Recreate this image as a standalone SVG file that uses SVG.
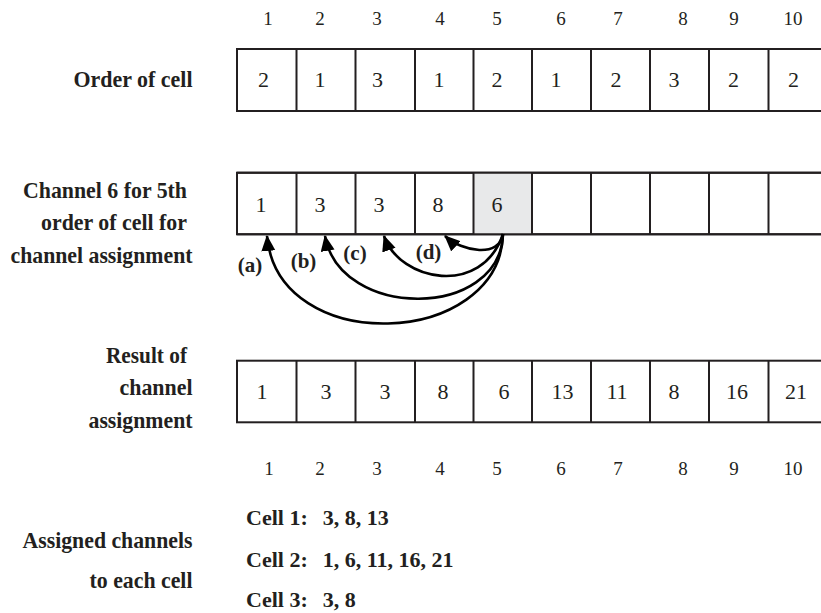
<svg xmlns="http://www.w3.org/2000/svg" width="821" height="613" viewBox="0 0 821 613" font-family="'Liberation Serif', 'DejaVu Serif', serif">
<style>
  text { font-family: 'Liberation Serif', 'DejaVu Serif', serif; fill: #231f20; }
  .lbl { font-size: 24px; font-weight: bold; text-anchor: end; }
  .idx { font-size: 19px; text-anchor: middle; }
  .val { font-size: 22px; text-anchor: middle; }
  .tag { font-size: 21px; font-weight: bold; text-anchor: middle; }
  .lst { font-size: 22px; font-weight: bold; }
  .box { fill: #ffffff; stroke: #231f20; stroke-width: 2; }
  .div { stroke: #231f20; stroke-width: 2; }
  .arc { fill: none; stroke: #000000; stroke-width: 2.6; }
</style>
<defs>
  <marker id="ah" markerUnits="userSpaceOnUse" markerWidth="18" markerHeight="16" refX="15" refY="7" orient="auto">
    <path d="M0,0 L16,7 L0,14 Z" fill="#000000"/>
  </marker>
</defs>
<rect width="821" height="613" fill="#ffffff"/>

<g id="top-index">
  <text class="idx" x="268" y="25">1</text>
  <text class="idx" x="320" y="25">2</text>
  <text class="idx" x="377" y="25">3</text>
  <text class="idx" x="440" y="25">4</text>
  <text class="idx" x="497" y="25">5</text>
  <text class="idx" x="561" y="25">6</text>
  <text class="idx" x="618" y="25">7</text>
  <text class="idx" x="683" y="25">8</text>
  <text class="idx" x="734" y="25">9</text>
  <text class="idx" x="793" y="25">10</text>
</g>

<g id="row-order">
  <text class="lbl" x="192.5" y="87" textLength="119" lengthAdjust="spacingAndGlyphs">Order of cell</text>
  <rect class="box" x="237" y="49" width="593" height="62"/>
  <path class="div" d="M296.5,49V111 M355.5,49V111 M415,49V111 M473.5,49V111 M532,49V111 M591,49V111 M650,49V111 M709,49V111 M768.5,49V111"/>
  <text class="val" x="263.5" y="87">2</text>
  <text class="val" x="320" y="87">1</text>
  <text class="val" x="377.5" y="87">3</text>
  <text class="val" x="439" y="87">1</text>
  <text class="val" x="497" y="87">2</text>
  <text class="val" x="556" y="87">1</text>
  <text class="val" x="616" y="87">2</text>
  <text class="val" x="674" y="87">3</text>
  <text class="val" x="733.5" y="87">2</text>
  <text class="val" x="793.5" y="87">2</text>
</g>

<g id="row-channel6">
  <text class="lbl" x="187" y="197.5" textLength="164" lengthAdjust="spacingAndGlyphs">Channel 6 for 5th</text>
  <text class="lbl" x="187" y="230" textLength="146" lengthAdjust="spacingAndGlyphs">order of cell for</text>
  <text class="lbl" x="192.5" y="263" textLength="182" lengthAdjust="spacingAndGlyphs">channel assignment</text>
  <rect class="box" x="237" y="172.7" width="593" height="61.6"/>
  <rect x="473.5" y="172.7" width="58.5" height="61.6" fill="#e8e9ea"/>
  <path class="div" d="M237,172.7H830 M237,234.3H830 M237,172.7V234.3 M296.5,172.7V234.3 M355.5,172.7V234.3 M415,172.7V234.3 M473.5,172.7V234.3 M532,172.7V234.3 M591,172.7V234.3 M650,172.7V234.3 M709,172.7V234.3 M768.5,172.7V234.3"/>
  <text class="val" x="261" y="211.7">1</text>
  <text class="val" x="320" y="211.7">3</text>
  <text class="val" x="379" y="211.7">3</text>
  <text class="val" x="438" y="211.7">8</text>
  <text class="val" x="497" y="211.7">6</text>
</g>

<g id="connectors">
  <path class="arc" marker-end="url(#ah)" d="M503,234 C500,348 278,358 267,236"/>
  <path class="arc" marker-end="url(#ah)" d="M503,234 C500,320 340,320 325,236"/>
  <path class="arc" marker-end="url(#ah)" d="M503,234 C482,297 400,282 384,236"/>
  <path class="arc" marker-end="url(#ah)" d="M503,234 C500,258 462,252 445,236"/>
</g>

<g id="arc-labels">
  <text class="tag" x="250" y="272">(a)</text>
  <text class="tag" x="303.5" y="267.5">(b)</text>
  <text class="tag" x="355" y="260">(c)</text>
  <text class="tag" x="428.5" y="258.5">(d)</text>
</g>

<g id="row-result">
  <text class="lbl" x="187" y="363.3" textLength="81" lengthAdjust="spacingAndGlyphs">Result of</text>
  <text class="lbl" x="192.5" y="395" textLength="73" lengthAdjust="spacingAndGlyphs">channel</text>
  <text class="lbl" x="192.5" y="428.3" textLength="104" lengthAdjust="spacingAndGlyphs">assignment</text>
  <rect class="box" x="237" y="360.7" width="593" height="61.6"/>
  <path class="div" d="M296.5,360.7V422.3 M355.5,360.7V422.3 M415,360.7V422.3 M473.5,360.7V422.3 M532,360.7V422.3 M591,360.7V422.3 M650,360.7V422.3 M709,360.7V422.3 M768.5,360.7V422.3"/>
  <text class="val" x="262" y="399.3">1</text>
  <text class="val" x="326" y="399.3">3</text>
  <text class="val" x="385" y="399.3">3</text>
  <text class="val" x="443" y="399.3">8</text>
  <text class="val" x="504" y="399.3">6</text>
  <text class="val" x="562.5" y="399.3">13</text>
  <text class="val" x="617" y="399.3">11</text>
  <text class="val" x="674" y="399.3">8</text>
  <text class="val" x="737" y="399.3">16</text>
  <text class="val" x="796" y="399.3">21</text>
</g>

<g id="bottom-index">
  <text class="idx" x="269" y="475">1</text>
  <text class="idx" x="320" y="475">2</text>
  <text class="idx" x="377" y="475">3</text>
  <text class="idx" x="440" y="475">4</text>
  <text class="idx" x="497" y="475">5</text>
  <text class="idx" x="561" y="475">6</text>
  <text class="idx" x="618" y="475">7</text>
  <text class="idx" x="683" y="475">8</text>
  <text class="idx" x="734" y="475">9</text>
  <text class="idx" x="793" y="475">10</text>
</g>

<g id="assigned">
  <text class="lbl" x="192.5" y="548" textLength="170" lengthAdjust="spacingAndGlyphs">Assigned channels</text>
  <text class="lbl" x="192.5" y="588" textLength="103" lengthAdjust="spacingAndGlyphs">to each cell</text>
  <text class="lst" y="525"><tspan x="246">Cell 1:</tspan><tspan x="322.7">3, 8, 13</tspan></text>
  <text class="lst" y="566.7"><tspan x="246">Cell 2:</tspan><tspan x="322.7">1, 6, 11, 16, 21</tspan></text>
  <text class="lst" y="607"><tspan x="246">Cell 3:</tspan><tspan x="322.7">3, 8</tspan></text>
</g>
</svg>
